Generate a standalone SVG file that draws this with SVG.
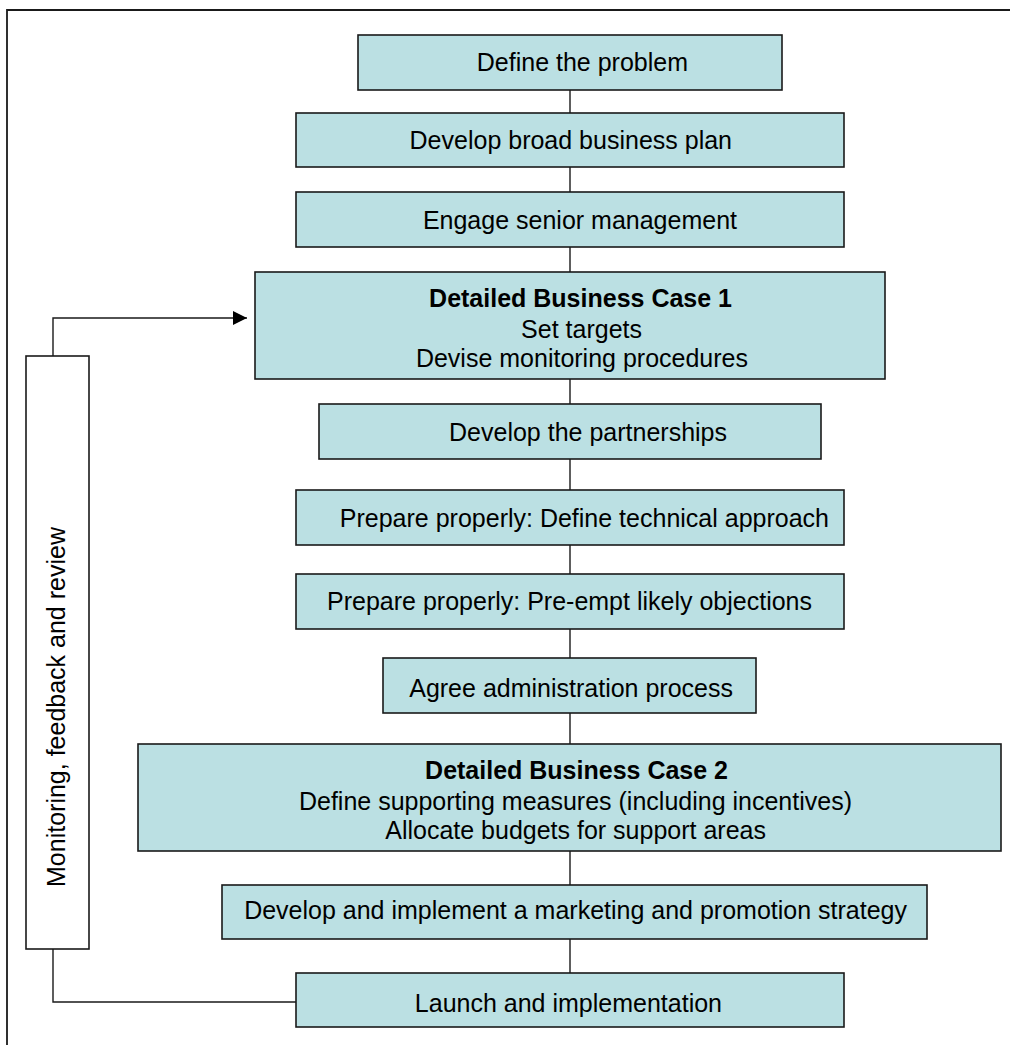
<svg xmlns="http://www.w3.org/2000/svg" width="1010" height="1045" viewBox="0 0 1010 1045">
<defs>
<style>
.box{fill:#bbe0e3;stroke:#1a1a1a;stroke-width:1.6}
.side{fill:#ffffff;stroke:#1a1a1a;stroke-width:1.6}
.t{font-family:"Liberation Sans",Arial,sans-serif;font-size:25px;fill:#000;text-anchor:end}
.b{font-weight:bold}
.c{fill:none;stroke:#1a1a1a;stroke-width:1.4}
</style>
<marker id="ah" markerWidth="14" markerHeight="14" refX="14" refY="7" orient="auto" markerUnits="userSpaceOnUse">
<path d="M0,0 L14,7 L0,14 Z" fill="#000"/>
</marker>
</defs>
<rect width="1010" height="1045" fill="#fff"/>
<path d="M7,1045 V10 H1010" fill="none" stroke="#1a1a1a" stroke-width="1.8"/>
<g id="connectors">
<path class="c" d="M570,90 V113 M570,167 V192 M570,247 V272 M570,379 V404 M570,459 V490 M570,545 V574 M570,629 V658 M570,713 V744 M570,851 V885 M570,939 V973"/>
<path class="c" d="M53,356 V318 H247" marker-end="url(#ah)"/>
<path class="c" d="M53,949 V1002 H296"/>
</g>
<g id="n1"><rect class="box" x="358" y="35" width="424" height="55"/><text class="t" x="688" y="71">Define the problem</text></g>
<g id="n2"><rect class="box" x="296" y="113" width="548" height="54"/><text class="t" x="732" y="149">Develop broad business plan</text></g>
<g id="n3"><rect class="box" x="296" y="192" width="548" height="55"/><text class="t" x="737" y="229">Engage senior management</text></g>
<g id="n4"><rect class="box" x="255" y="272" width="630" height="107"/>
<text class="t b" x="732" y="307">Detailed Business Case 1</text>
<text class="t" x="642" y="338">Set targets</text>
<text class="t" x="748" y="367">Devise monitoring procedures</text></g>
<g id="n5"><rect class="box" x="319" y="404" width="502" height="55"/><text class="t" x="727" y="441">Develop the partnerships</text></g>
<g id="n6"><rect class="box" x="296" y="490" width="548" height="55"/><text class="t" x="829" y="527">Prepare properly: Define technical approach</text></g>
<g id="n7"><rect class="box" x="296" y="574" width="548" height="55"/><text class="t" x="812" y="610">Prepare properly: Pre-empt likely objections</text></g>
<g id="n8"><rect class="box" x="383" y="658" width="373" height="55"/><text class="t" x="733" y="697">Agree administration process</text></g>
<g id="n9"><rect class="box" x="138" y="744" width="863" height="107"/>
<text class="t b" x="728" y="779">Detailed Business Case 2</text>
<text class="t" x="852" y="810">Define supporting measures (including incentives)</text>
<text class="t" x="766" y="839">Allocate budgets for support areas</text></g>
<g id="n10"><rect class="box" x="222" y="885" width="705" height="54"/><text class="t" x="907" y="919">Develop and implement a marketing and promotion strategy</text></g>
<g id="n11"><rect class="box" x="296" y="973" width="548" height="54"/><text class="t" x="722" y="1012">Launch and implementation</text></g>
<g id="feedback"><rect class="side" x="26" y="356" width="63" height="593"/>
<text class="t" style="text-anchor:middle" transform="translate(65,707) rotate(-90)">Monitoring, feedback and review</text></g>
</svg>
